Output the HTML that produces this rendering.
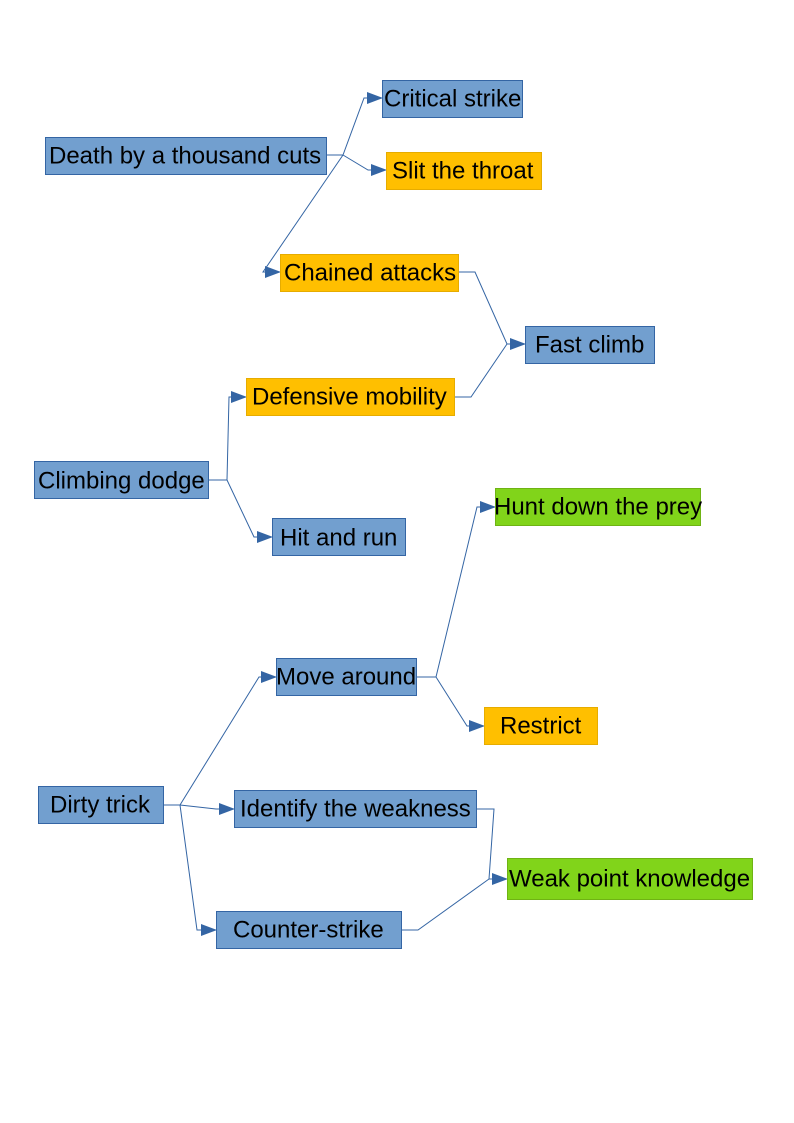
<!DOCTYPE html>
<html><head><meta charset="utf-8"><style>
body{margin:0;background:#fff}
svg{display:block}
text{font-family:"Liberation Sans",sans-serif;font-size:24px;fill:#000;dominant-baseline:central}
.b{fill:#729fcf;stroke:#3465a4;stroke-width:1}
.o{fill:#ffbf00;stroke:#e6ac00;stroke-width:1}
.g{fill:#81d41a;stroke:#6fb314;stroke-width:1}
.l{fill:none;stroke:#3465a4;stroke-width:1}
</style></head><body>
<svg width="794" height="1123" viewBox="0 0 794 1123">
<defs><marker id="a" markerWidth="16" markerHeight="12" refX="15" refY="6" orient="auto" markerUnits="userSpaceOnUse"><path d="M0,0 L16,6 L0,12 z" fill="#3465a4"/></marker></defs>
<g class="l">
<polyline points="326,155 343,155 364,98 382,98" marker-end="url(#a)"/>
<polyline points="343,155 368,170 386,170" marker-end="url(#a)"/>
<polyline points="343,155 263,272 280,272" marker-end="url(#a)"/>
<polyline points="458,272 475,272 507,344 525,344" marker-end="url(#a)"/>
<polyline points="454,397 471,397 507,344"/>
<polyline points="208,480 227,480 229,397 246,397" marker-end="url(#a)"/>
<polyline points="227,480 254,537 272,537" marker-end="url(#a)"/>
<polyline points="416,677 436,677 477,507 495,507" marker-end="url(#a)"/>
<polyline points="436,677 467,726 484,726" marker-end="url(#a)"/>
<polyline points="163,805 180,805 259,677 276,677" marker-end="url(#a)"/>
<polyline points="180,805 216,809 234,809" marker-end="url(#a)"/>
<polyline points="180,805 197,930 216,930" marker-end="url(#a)"/>
<polyline points="476,809 494,809 489,879 507,879" marker-end="url(#a)"/>
<polyline points="401,930 418,930 489,879"/>
</g>
<rect class="b" x="45.5" y="137.5" width="281" height="37"/><text x="49" y="156">Death by a thousand cuts</text>
<rect class="b" x="382.5" y="80.5" width="140" height="37"/><text x="384" y="99">Critical strike</text>
<rect class="o" x="386.5" y="152.5" width="155" height="37"/><text x="392" y="171">Slit the throat</text>
<rect class="o" x="280.5" y="254.5" width="178" height="37"/><text x="284" y="273">Chained attacks</text>
<rect class="b" x="525.5" y="326.5" width="129" height="37"/><text x="535" y="345">Fast climb</text>
<rect class="o" x="246.5" y="378.5" width="208" height="37"/><text x="252" y="397">Defensive mobility</text>
<rect class="b" x="34.5" y="461.5" width="174" height="37"/><text x="38" y="481">Climbing dodge</text>
<rect class="b" x="272.5" y="518.5" width="133" height="37"/><text x="280" y="538">Hit and run</text>
<rect class="g" x="495.5" y="488.5" width="205" height="37"/><text x="494" y="507">Hunt down the prey</text>
<rect class="b" x="276.5" y="658.5" width="140" height="37"/><text x="276" y="677">Move around</text>
<rect class="o" x="484.5" y="707.5" width="113" height="37"/><text x="500" y="726">Restrict</text>
<rect class="b" x="38.5" y="786.5" width="125" height="37"/><text x="50" y="805">Dirty trick</text>
<rect class="b" x="234.5" y="790.5" width="242" height="37"/><text x="240" y="809">Identify the weakness</text>
<rect class="g" x="507.5" y="858.5" width="245" height="41"/><text x="509" y="879">Weak point knowledge</text>
<rect class="b" x="216.5" y="911.5" width="185" height="37"/><text x="233" y="930">Counter-strike</text>
</svg>
</body></html>
